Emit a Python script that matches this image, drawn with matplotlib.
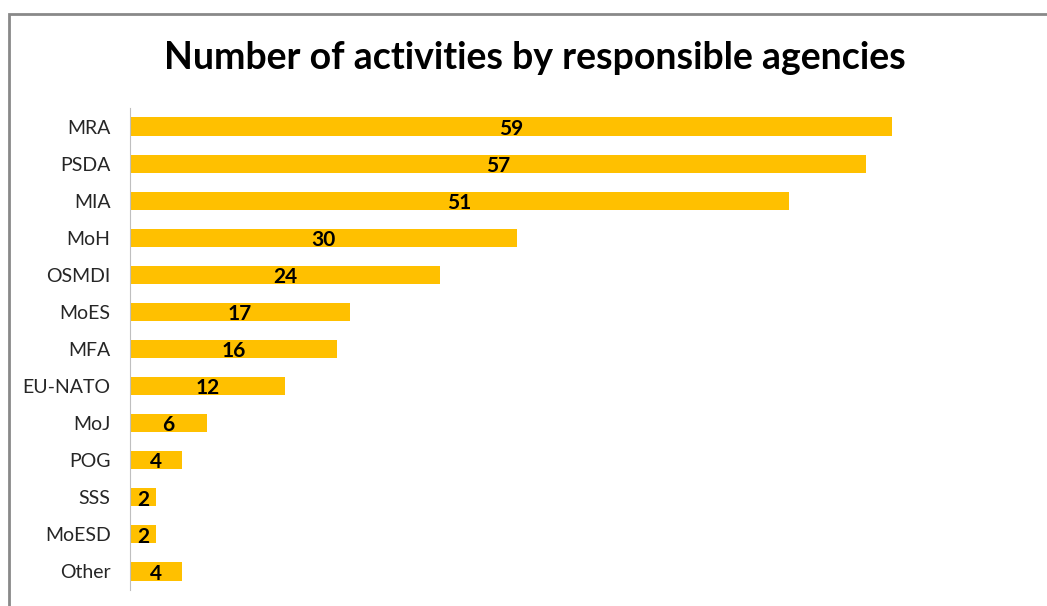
import matplotlib.pyplot as plt
from matplotlib.patches import Rectangle

agencies = ['MRA', 'PSDA', 'MIA', 'MoH', 'OSMDI', 'MoES', 'MFA', 'EU-NATO',
            'MoJ', 'POG', 'SSS', 'MoESD', 'Other']
counts = [59, 57, 51, 30, 24, 17, 16, 12, 6, 4, 2, 2, 4]

plt.rcParams['font.family'] = ['Lato', 'DejaVu Sans']

fig = plt.figure(figsize=(10.47, 6.06), dpi=100)
# chart border (only left and top are visible in the crop)
fig.patches.append(Rectangle((9 / 1047, -0.1), 1.2, (606 - 14) / 606 + 0.1,
                             transform=fig.transFigure, fill=False,
                             edgecolor='#898989', linewidth=2))

ax = fig.add_axes([130 / 1047, (606 - 590) / 606, 904 / 1047, 482 / 606])
y = list(range(len(agencies)))
bars = ax.barh(y, counts, height=0.49, color='#FFC000')
ax.set_ylim(len(agencies) - 0.5, -0.5)
ax.set_xlim(0, 70)
ax.set_yticks(y)
ax.set_yticklabels(agencies, fontsize=14, color='#262626')
ax.tick_params(axis='y', length=0, pad=14)
ax.set_xticks([])
for s in ['top', 'right', 'bottom']:
    ax.spines[s].set_visible(False)
ax.spines['left'].set_color('#bfbfbf')

for b, v in zip(bars, counts):
    ax.text(b.get_width() / 2, b.get_y() + b.get_height() / 2 + 0.06, str(v),
            ha='center', va='center', fontsize=15, fontweight='bold', color='black')

fig.text(535 / 1047, 1 - 58 / 606, 'Number of activities by responsible agencies',
         ha='center', va='center', fontsize=27, fontweight='bold')

fig.savefig('out.png', dpi=100)
